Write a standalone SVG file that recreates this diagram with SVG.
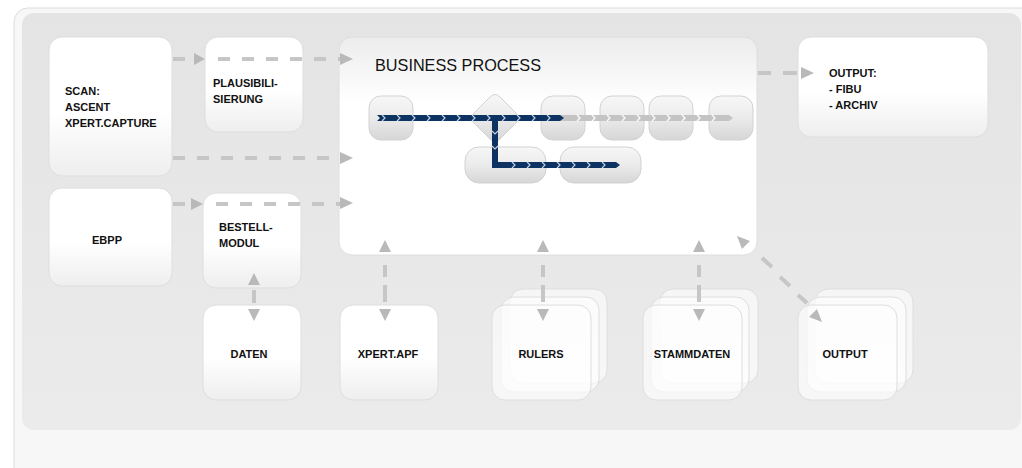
<svg xmlns="http://www.w3.org/2000/svg" width="1022" height="468" viewBox="0 0 1022 468">
<defs>
<linearGradient id="gNode" x1="0" y1="0" x2="0" y2="1"><stop offset="0" stop-color="#ffffff"/><stop offset="0.55" stop-color="#ffffff"/><stop offset="1" stop-color="#eeeeee"/></linearGradient>
<linearGradient id="gBP" x1="0" y1="0" x2="0" y2="1"><stop offset="0" stop-color="#ececec"/><stop offset="0.3" stop-color="#ffffff"/><stop offset="1" stop-color="#ffffff"/></linearGradient>
<linearGradient id="gStep" x1="0" y1="0" x2="0" y2="1"><stop offset="0" stop-color="#f7f7f7"/><stop offset="0.5" stop-color="#ebebeb"/><stop offset="1" stop-color="#d6d6d6"/></linearGradient>
<linearGradient id="gPanel" x1="0" y1="0" x2="0" y2="1"><stop offset="0" stop-color="#e4e4e4"/><stop offset="1" stop-color="#ebebeb"/></linearGradient>
</defs>
<style>
.node{fill:url(#gNode);stroke:#dedede;stroke-width:1}
.stk{fill:#ffffff;fill-opacity:0.6;stroke:#dedede;stroke-width:1}
.step{fill:url(#gStep);stroke:#d2d2d2;stroke-width:1}
.t{font-family:"Liberation Sans",Arial,sans-serif;font-weight:bold;font-size:11px;fill:#111111}
.tc{text-anchor:middle}
.title{font-family:"Liberation Sans",Arial,sans-serif;font-size:17px;fill:#111111}
.dash{fill:none;stroke:#c6c6c6;stroke-width:4;stroke-dasharray:12 12}
.seg{fill:none;stroke:#c6c6c6;stroke-width:4}
.ah{fill:#b9b9b9}
.navy{fill:#0c3362}
.gray{fill:#c4c4c4}
.chN{fill:none;stroke:#c3cfe0;stroke-width:1.2}
.chG{fill:none;stroke:#ffffff;stroke-width:1.2}
</style>

<rect x="14" y="8" width="1030" height="480" rx="14" fill="#f7f7f7" stroke="#dcdcdc" stroke-width="1"/>
<rect x="22" y="13" width="999" height="417" rx="12" fill="url(#gPanel)"/>

<g id="scan"><rect class="node" x="49" y="37" width="123" height="139" rx="13"/>
<text class="t" x="65" y="95">SCAN:</text><text class="t" x="65" y="111">ASCENT</text><text class="t" x="65" y="127">XPERT.CAPTURE</text></g>

<g id="plausi"><rect class="node" x="205" y="37" width="98" height="95" rx="13"/>
<text class="t" x="213" y="87">PLAUSIBILI-</text><text class="t" x="213" y="103">SIERUNG</text></g>

<g id="ebpp"><rect class="node" x="49" y="188" width="123" height="98" rx="13"/>
<text class="t tc" x="107" y="244">EBPP</text></g>

<g id="bestell"><rect class="node" x="203" y="193" width="98" height="95" rx="13"/>
<text class="t" x="219" y="231">BESTELL-</text><text class="t" x="219" y="247">MODUL</text></g>

<g id="bp"><rect x="339" y="37" width="418" height="218" rx="13" fill="url(#gBP)" stroke="#dedede"/>
<text class="title" x="375" y="71" textLength="166" lengthAdjust="spacingAndGlyphs">BUSINESS PROCESS</text>
<rect class="step" x="369" y="96" width="44" height="44" rx="12"/>
<path class="step" d="M490 97 Q495 92 500 97 L516 113 Q521 118 516 123 L500 139 Q495 144 490 139 L474 123 Q469 118 474 113 Z"/>
<rect class="step" x="541" y="96" width="44" height="44" rx="12"/>
<rect class="step" x="600" y="96" width="44" height="44" rx="12"/>
<rect class="step" x="649" y="96" width="44" height="44" rx="12"/>
<rect class="step" x="709" y="96" width="44" height="44" rx="12"/>
<rect class="step" x="465" y="147" width="81" height="36" rx="14"/>
<rect class="step" x="560" y="147" width="81" height="36" rx="14"/>
<polygon class="gray" points="556,115 729,115 733,118 729,121 556,121"/>
<path class="chG" d="M577 115l3 3l-3 3M592 115l3 3l-3 3M607 115l3 3l-3 3M622 115l3 3l-3 3M637 115l3 3l-3 3M652 115l3 3l-3 3M667 115l3 3l-3 3M682 115l3 3l-3 3M697 115l3 3l-3 3M712 115l3 3l-3 3"/>
<polygon class="navy" points="377,115 560,115 564,118 560,121 377,121 380,118"/>
<path d="M495 118V165H616" fill="none" stroke="#0c3362" stroke-width="6" stroke-linejoin="miter"/>
<polygon class="navy" points="616,162 620,165 616,168"/>
<path class="chN" d="M382 115l3 3l-3 3M397 115l3 3l-3 3M412 115l3 3l-3 3M427 115l3 3l-3 3M442 115l3 3l-3 3M457 115l3 3l-3 3M472 115l3 3l-3 3M487 115l3 3l-3 3M502 115l3 3l-3 3M517 115l3 3l-3 3M532 115l3 3l-3 3M547 115l3 3l-3 3"/>
<path class="chN" d="M492 131l3 3l3 -3M492 146l3 3l3 -3"/>
<path class="chN" d="M512 162l3 3l-3 3M527 162l3 3l-3 3M542 162l3 3l-3 3M557 162l3 3l-3 3M572 162l3 3l-3 3M587 162l3 3l-3 3M602 162l3 3l-3 3"/>
</g>

<g id="output1"><rect class="node" x="798" y="37" width="190" height="100" rx="13"/>
<text class="t" x="829" y="77">OUTPUT:</text><text class="t" x="829" y="93">- FIBU</text><text class="t" x="829" y="109">- ARCHIV</text></g>

<g id="daten"><rect class="node" x="203" y="305" width="98" height="95" rx="13"/>
<text class="t tc" x="249" y="358">DATEN</text></g>

<g id="xpertapf"><rect class="node" x="340" y="305" width="98" height="95" rx="13"/>
<text class="t tc" x="388" y="358">XPERT.APF</text></g>

<g id="rulers"><rect class="stk" x="510" y="289" width="97" height="94" rx="13"/>
<rect class="stk" x="501" y="297" width="98" height="95" rx="13"/>
<rect class="stk" x="492" y="305" width="99" height="95" rx="13"/>
<text class="t tc" x="541" y="358">RULERS</text></g>

<g id="stammdaten"><rect class="stk" x="660" y="289" width="98" height="94" rx="13"/>
<rect class="stk" x="651" y="297" width="98" height="95" rx="13"/>
<rect class="stk" x="643" y="305" width="99" height="95" rx="13"/>
<text class="t tc" x="692" y="358">STAMMDATEN</text></g>

<g id="output2"><rect class="stk" x="815" y="289" width="98" height="94" rx="13"/>
<rect class="stk" x="807" y="297" width="99" height="95" rx="13"/>
<rect class="stk" x="798" y="305" width="99" height="95" rx="13"/>
<text class="t tc" x="845" y="358">OUTPUT</text></g>

<g id="connectors">
<path class="dash" d="M173 59H190"/>
<path class="dash" d="M218 59H340"/>
<polygon class="ah" points="194,53 194,65 205,59"/>
<polygon class="ah" points="340,53 340,65 353,59"/>
<path class="dash" d="M173 158H340"/>
<polygon class="ah" points="340,152 340,164 353,158"/>
<path class="dash" d="M173 204H188"/>
<path class="dash" d="M216 204H340"/>
<polygon class="ah" points="191,198 191,210 203,204"/>
<polygon class="ah" points="340,197 340,209 353,203"/>
<path class="seg" d="M758 73H771M783 73H797"/>
<polygon class="ah" points="801,67 801,79 814,73"/>
<polygon class="ah" points="254,273 248,285 260,285"/>
<path class="seg" d="M254 290V303"/>
<polygon class="ah" points="248,309 260,309 254,321"/>
<polygon class="ah" points="385,240 379,252 391,252"/>
<path class="seg" d="M385 265V277M385 285V302"/>
<polygon class="ah" points="379,309 391,309 385,321"/>
<polygon class="ah" points="543,240 537,252 549,252"/>
<path class="seg" d="M543 265V277M543 285V302"/>
<polygon class="ah" points="537,309 549,309 543,321"/>
<polygon class="ah" points="699,240 693,252 705,252"/>
<path class="seg" d="M699 265V277M699 285V302"/>
<polygon class="ah" points="693,309 705,309 699,321"/>
<polygon class="ah" points="737,236 750,241 742,249"/>
<path class="seg" d="M762 258L772 267M780 277L790 286M798 295L807 303"/>
<polygon class="ah" points="822,322 809,317 817,309"/>
</g>
</svg>
